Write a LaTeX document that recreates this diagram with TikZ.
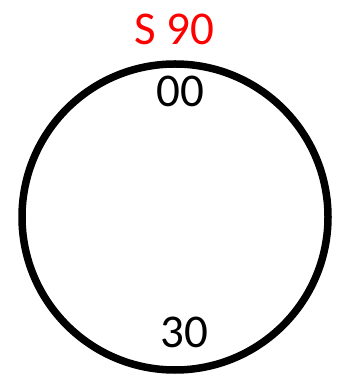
\documentclass[tikz,border=0pt]{standalone}
\usepackage{fontspec}
\setmainfont{Carlito}
\usetikzlibrary{positioning}
\begin{document}
\begin{tikzpicture}[x=1pt,y=1pt,every node/.style={font=\fontsize{47}{50}\selectfont,inner sep=0pt,anchor=base}]
\useasboundingbox (0,0) rectangle (347,382);
\coordinate (c) at (175,165);
\draw[line width=7.5pt] (c) circle (153);
\node[text=red] (title) at (174,337) {S 90};
\node (top) at (180,275) {00};
\node (bottom) at (184,34) {30};
\end{tikzpicture}
\end{document}
